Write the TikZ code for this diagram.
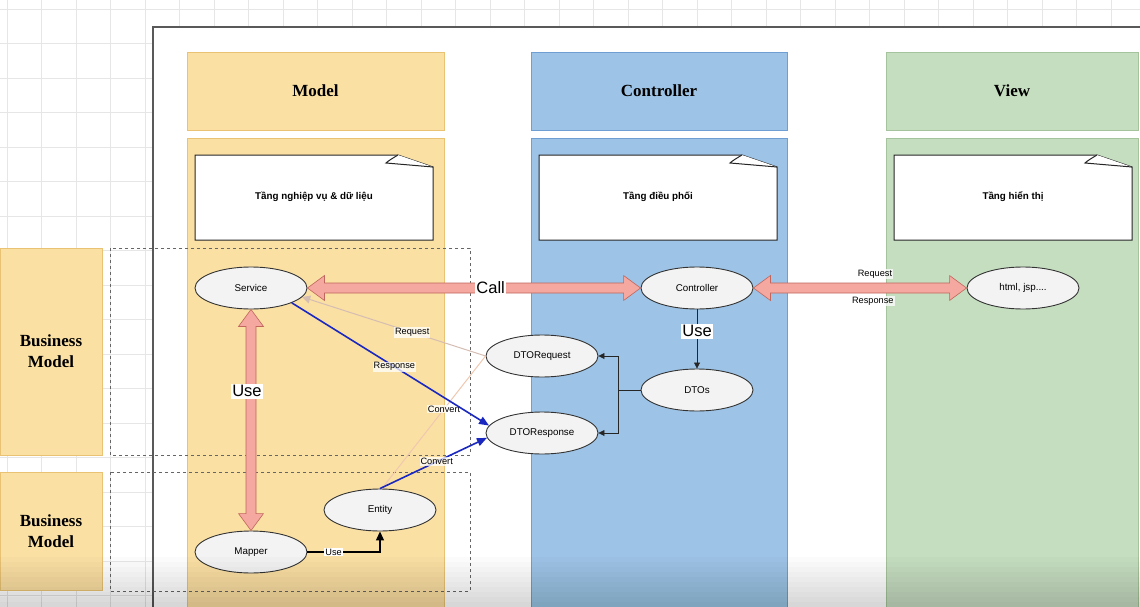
\documentclass[tikz,border=0pt]{standalone}
\usepackage{fontspec}
\setmainfont{Liberation Serif}
\setsansfont{Liberation Sans}
\usetikzlibrary{shapes.geometric,calc,arrows.meta}
\definecolor{yel}{HTML}{FAE0A3}
\definecolor{yelb}{HTML}{E9C273}
\definecolor{blu}{HTML}{9DC3E6}
\definecolor{blub}{HTML}{6F9FD2}
\definecolor{grn}{HTML}{C6DEC0}
\definecolor{grnb}{HTML}{A5C39D}
\definecolor{pinkf}{HTML}{F4A8A0}
\definecolor{pinkd}{HTML}{C0665C}
\definecolor{bluel}{HTML}{1A28C0}
\definecolor{peach}{HTML}{F0C8B0}
\definecolor{reqc}{HTML}{D5BDB4}
\definecolor{gridc}{HTML}{E6E6E6}
\definecolor{ellf}{HTML}{F3F3F3}
\begin{document}
\begin{tikzpicture}[x=1pt,y=-1pt,
  box/.style={rectangle, inner sep=0pt, line width=0.8pt},
  hdr/.style={font=\rmfamily\bfseries\fontsize{17}{21}\selectfont, align=center},
  ell/.style={ellipse, draw=black!80, fill=ellf, line width=0.9pt, minimum width=112pt, minimum height=42pt, inner sep=0pt, font=\sffamily\fontsize{9.8}{11}\selectfont},
  lbl/.style={font=\sffamily\fontsize{9.2}{10}\selectfont, text=black, fill=white, fill opacity=0.75, text opacity=1, inner sep=1pt},
  big/.style={font=\sffamily\fontsize{16.5}{18}\selectfont, text=black, fill=white, inner sep=1.5pt},
  notetxt/.style={font=\sffamily\bfseries\fontsize{9.8}{11}\selectfont},
  notebox/.style={draw=black!85, fill=white, line width=1pt},
  dbox/.style={draw=black!60, dashed, line width=0.6pt},
  pinkarr/.style={fill=pinkf, draw=pinkd, line width=0.6pt, line join=miter},
  darr/.style={black!85, line width=0.8pt, -{Triangle[length=6pt,width=6pt]}},
]
\useasboundingbox (0,0) rectangle (1140,607);
\fill[white] (0,0) rectangle (1140,607);
% grid background
\foreach \gx in {7,41.5,...,1140} \draw[gridc, line width=0.5pt] (\gx,0) -- (\gx,607);
\foreach \gy in {9,43.5,...,607} \draw[gridc, line width=0.5pt] (0,\gy) -- (1140,\gy);
% frame
\fill[white] (153,27) rectangle (1145,612);
\draw[black!65, line width=2pt] (153,612) -- (153,27) -- (1145,27);

% columns
\node[box, fill=yel, draw=yelb, minimum width=257pt, minimum height=78pt, hdr] (mhead) at (315.5,91) {Model};
\node[box, fill=yel, draw=yelb, minimum width=257pt, minimum height=480pt] (mbody) at (315.5,378) {};
\node[box, fill=blu, draw=blub, minimum width=256pt, minimum height=78pt, hdr] (chead) at (659,91) {Controller};
\node[box, fill=blu, draw=blub, minimum width=256pt, minimum height=480pt] (cbody) at (659,378) {};
\node[box, fill=grn, draw=grnb, minimum width=252pt, minimum height=78pt, hdr] (vhead) at (1012,91) {View};
\node[box, fill=grn, draw=grnb, minimum width=252pt, minimum height=480pt] (vbody) at (1012,378) {};

% business model boxes
\node[box, fill=yel, draw=yelb, minimum width=102pt, minimum height=207pt, hdr] (bm1) at (51,351.5) {Business\\Model};
\node[box, fill=yel, draw=yelb, minimum width=102pt, minimum height=118pt, hdr] (bm2) at (51,531) {Business\\Model};
\draw[dbox] (110,248) rectangle (470,455);
\draw[dbox] (110,472) rectangle (470,591);

% notes
\foreach \xa/\xb/\t/\n in {195/433/{Tầng nghiệp vụ \& dữ liệu}/mnote, 539/777/{Tầng điều phối}/cnote, 894/1132/{Tầng hiển thị}/vnote}{
  \draw[notebox] (\xa,155) -- (\xb-35,155) -- (\xb,167) -- (\xb,240) -- (\xa,240) -- cycle;
  \draw[notebox] (\xb-35,155) .. controls (\xb-40,158) and (\xb-45,161) .. (\xb-47,163) -- (\xb,167);
  \node[notetxt] (\n) at ({(\xa+\xb)/2},197) {\t};
}

% ellipses
\node[ell] (service) at (251,288) {Service};
\node[ell] (ctrl) at (697,288) {Controller};
\node[ell] (html) at (1023,288) {html, jsp....};
\node[ell] (dtoreq) at (542,356) {DTORequest};
\node[ell] (dtos) at (697,390) {DTOs};
\node[ell] (dtoresp) at (542,433) {DTOResponse};
\node[ell] (entity) at (380,510) {Entity};
\node[ell] (mapper) at (251,552) {Mapper};

% pink double arrows
\path[pinkarr] let \p1=(service.east), \p2=(ctrl.west) in
  (\x1,\y1) -- (\x1+17pt,\y1+12.5pt) -- (\x1+17pt,\y1+5pt) -- (\x2-17pt,\y2+5pt) -- (\x2-17pt,\y2+12.5pt) -- (\x2,\y2)
  -- (\x2-17pt,\y2-12.5pt) -- (\x2-17pt,\y2-5pt) -- (\x1+17pt,\y1-5pt) -- (\x1+17pt,\y1-12.5pt) -- cycle;
\path[pinkarr] let \p1=(ctrl.east), \p2=(html.west) in
  (\x1,\y1) -- (\x1+17pt,\y1+12.5pt) -- (\x1+17pt,\y1+5pt) -- (\x2-17pt,\y2+5pt) -- (\x2-17pt,\y2+12.5pt) -- (\x2,\y2)
  -- (\x2-17pt,\y2-12.5pt) -- (\x2-17pt,\y2-5pt) -- (\x1+17pt,\y1-5pt) -- (\x1+17pt,\y1-12.5pt) -- cycle;
\path[pinkarr] let \p1=(service.south), \p2=(mapper.north) in
  (\x1,\y1) -- (\x1+12.5pt,\y1-17pt) -- (\x1+5pt,\y1-17pt) -- (\x2+5pt,\y2+17pt) -- (\x2+12.5pt,\y2+17pt) -- (\x2,\y2)
  -- (\x2-12.5pt,\y2+17pt) -- (\x2-5pt,\y2+17pt) -- (\x1-5pt,\y1-17pt) -- (\x1-12.5pt,\y1-17pt) -- cycle;
\node[big] (calllbl) at ($(service.east)!0.55!(ctrl.west)$) {Call};
\node[big] (uselbl) at ($(service.south)!0.37!(mapper.north)+(-4,0)$) {Use};
\node[lbl] (reqlbl) at ($(ctrl.east)!0.57!(html.west)+(0,-14)$) {Request};
\node[lbl] (resplbl) at ($(ctrl.east)!0.56!(html.west)+(0,13)$) {Response};

% controller -> DTOs
\draw[darr] (ctrl.south) -- (dtos.north) node[pos=0.37, big] {Use};
\draw[darr] (dtos.west) -- ++(-22,0) |- (dtoreq.east);
\draw[darr] (dtos.west) -- ++(-22,0) |- (dtoresp.east);

% request / convert lines
\draw[reqc, line width=1pt, -{Triangle[length=8pt,width=8pt]}] (dtoreq.west) -- (service.-10) node[pos=0.4, lbl] {Request};
\draw[peach, line width=1pt] (dtoreq.west) -- (entity.85) node[pos=0.4, lbl] {Convert};
\draw[bluel, line width=1.6pt, -{Triangle[length=10pt,width=8pt]}] (service.-20) -- (dtoresp.172) node[pos=0.52, lbl] {Response};
\draw[bluel, line width=1.6pt, -{Triangle[length=10pt,width=8pt]}] (entity.north) -- (dtoresp.185) node[pos=0.53, lbl] {Convert};

% mapper -> entity
\draw[black, line width=1.2pt, -{Triangle[length=9pt,width=8pt]}] (mapper.east) -| (entity.south) node[pos=0.18, lbl, fill opacity=1] {Use};

% bottom shade
\foreach \sy in {557,562,...,602} \fill[black, opacity=0.014] (0,\sy) rectangle (1140,607);
\end{tikzpicture}
\end{document}
